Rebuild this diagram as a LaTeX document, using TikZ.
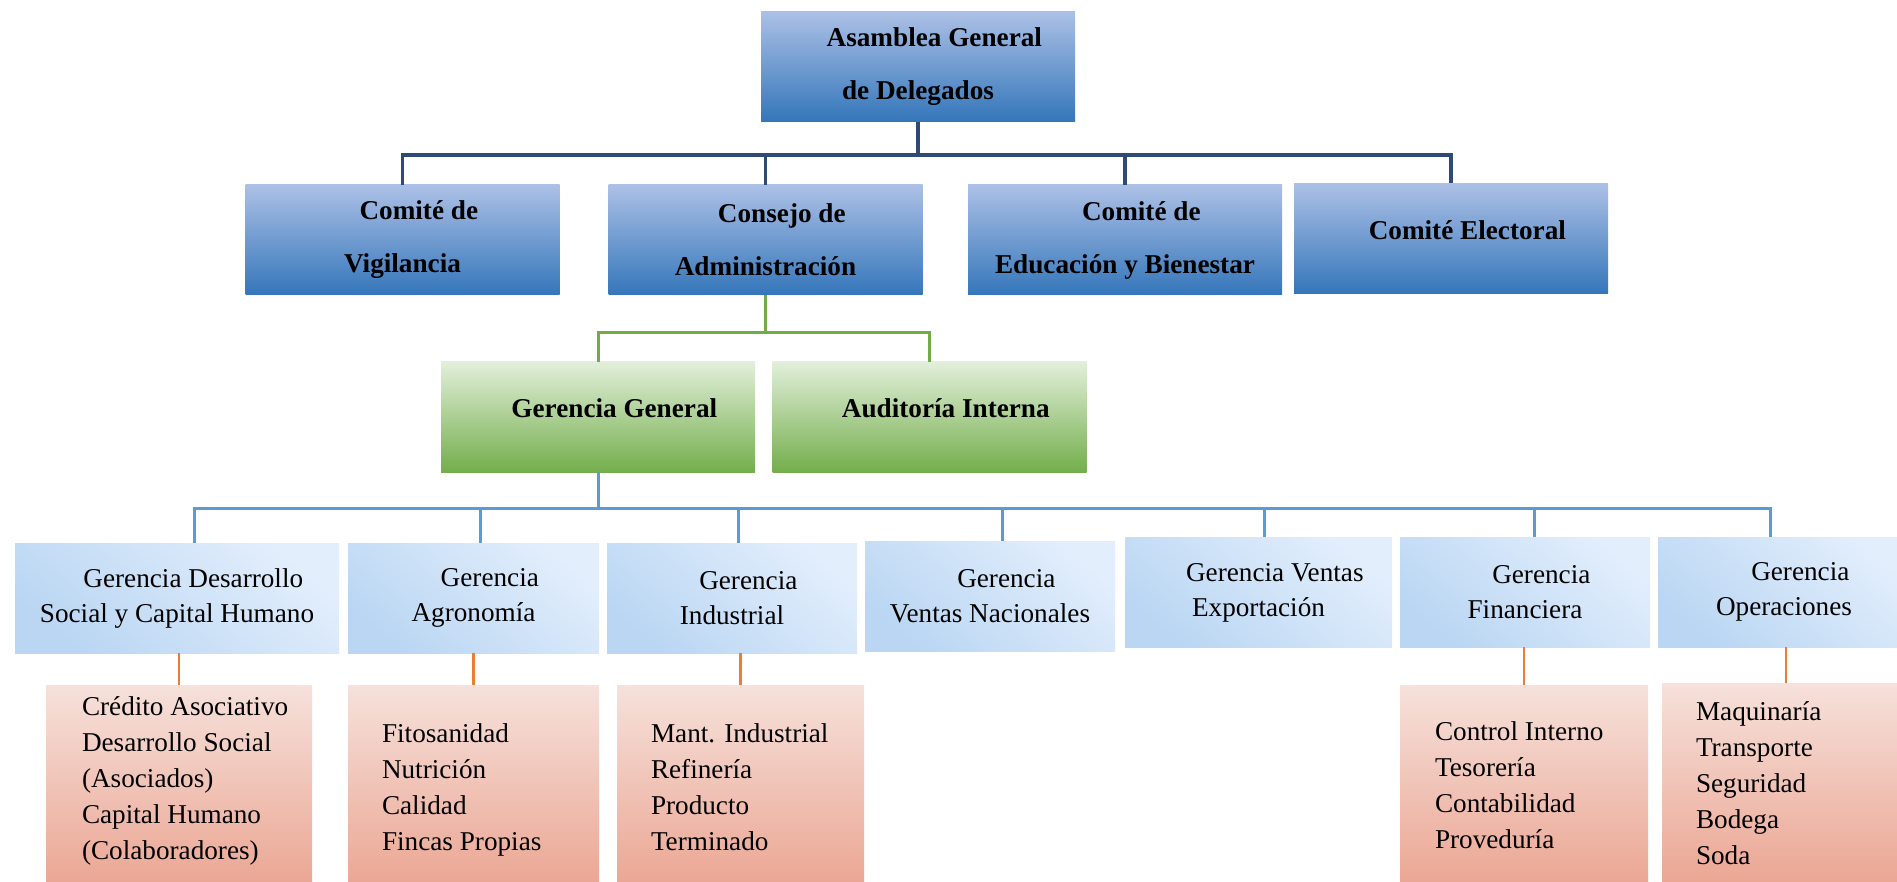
\documentclass[tikz,border=0pt]{standalone}
\usepackage{fontspec}
\setmainfont{Liberation Serif}
\definecolor{azulclaro}{RGB}{172,192,230}
\definecolor{azul}{RGB}{52,118,186}
\definecolor{marino}{RGB}{47,74,120}
\definecolor{verdeclaro}{RGB}{226,239,218}
\definecolor{verde}{RGB}{116,174,76}
\definecolor{lineaverde}{RGB}{112,173,71}
\definecolor{celeste}{RGB}{226,238,252}
\definecolor{celesteosc}{RGB}{186,214,243}
\definecolor{lineaazul}{RGB}{91,155,213}
\definecolor{salmonclaro}{RGB}{246,225,219}
\definecolor{salmon}{RGB}{234,160,140}
\definecolor{naranja}{RGB}{237,125,49}
\tikzstyle{organo}=[inner sep=0pt,minimum width=157pt,minimum height=55pt,top color=azulclaro,bottom color=azul,align=center,font=\fontsize{13.6}{26.5}\selectfont\bfseries]
\tikzstyle{direccion}=[organo,top color=verdeclaro,bottom color=verde]
\tikzstyle{unalinea}=[text depth=8.5pt]
\tikzstyle{gerencia}=[inner sep=0pt,minimum height=55pt,top color=celeste,bottom color=celesteosc,shading angle=-40,align=center,font=\fontsize{13.6}{17.5}\selectfont]
\tikzstyle{area}=[inner sep=0pt,minimum height=110pt,top color=salmonclaro,bottom color=salmon,anchor=north]
\tikzstyle{lista}=[inner sep=0pt,anchor=north west,align=left,font=\fontsize{13.6}{18}\selectfont]
\tikzstyle{enlace}=[draw=marino,line width=1.7pt]
\tikzstyle{enlaceverde}=[draw=lineaverde,line width=1.5pt]
\tikzstyle{enlaceazul}=[draw=lineaazul,line width=1.5pt]
\tikzstyle{enlacenaranja}=[draw=naranja,line width=1.3pt]
\begin{document}
\begin{tikzpicture}[x=0.5pt,y=-0.5pt]
  \useasboundingbox (0,0) rectangle (1897,882);
  \clip (0,0) rectangle (1897,882);
  \node[organo] (asamblea) at (918,66.5) {\hspace*{1.2em}Asamblea General\\de Delegados};
  \node[organo] (vigilancia) at (402.5,240) {\hspace*{1.2em}Comité de\\Vigilancia};
  \node[organo] (consejo) at (765.5,240) {\hspace*{1.2em}Consejo de\\Administración};
  \node[organo] (educacion) at (1125,240) {\hspace*{1.2em}Comité de\\Educación y Bienestar};
  \node[organo,unalinea] (electoral) at (1451,238.5) {\hspace*{1.2em}Comité Electoral};
  \node[direccion,unalinea] (general) at (598,417) {\hspace*{1.2em}Gerencia General};
  \node[direccion,unalinea] (auditoria) at (929.5,417) {\hspace*{1.2em}Auditoría Interna};
  \node[gerencia,minimum width=162pt] (desarrollo) at (177,598) {\hspace*{1.2em}Gerencia Desarrollo\\Social y Capital Humano};
  \node[gerencia,minimum width=125.5pt] (agronomia) at (473.5,598) {\hspace*{1.2em}Gerencia\\Agronomía};
  \node[gerencia,minimum width=125pt] (industrial) at (732,598) {\hspace*{1.2em}Gerencia\\Industrial};
  \node[gerencia,minimum width=125pt] (nacionales) at (990,596.5) {\hspace*{1.2em}Gerencia\\Ventas Nacionales};
  \node[gerencia,minimum width=133.5pt] (exportacion) at (1258.5,592.5) {\hspace*{1.2em}Gerencia Ventas\\Exportación};
  \node[gerencia,minimum width=125pt] (financiera) at (1525,592) {\hspace*{1.2em}Gerencia\\Financiera};
  \node[gerencia,minimum width=126pt] (operaciones) at (1784,592) {\hspace*{1.2em}Gerencia\\Operaciones};
  \node[area,minimum width=133pt] (social) at (179,685) {};
  \node[area,minimum width=125.5pt] (agro) at (473.5,685) {};
  \node[area,minimum width=123.5pt] (planta) at (740.5,685) {};
  \node[area,minimum width=124pt] (finanzas) at (1524,685) {};
  \node[area,minimum width=124pt] (operativa) at (1786,683) {};
  \node[lista] (sociallista) at ([shift={(36,11)}]social.north west) {Crédito Asociativo\\Desarrollo Social\\(Asociados)\\Capital Humano\\(Colaboradores)};
  \node[lista] (agrolista) at ([shift={(34,38)}]agro.north west) {Fitosanidad\\Nutrición\\Calidad\\Fincas Propias};
  \node[lista] (plantalista) at ([shift={(34,38)}]planta.north west) {Mant. Industrial\\Refinería\\Producto\\Terminado};
  \node[lista] (finanzaslista) at ([shift={(35,36)}]finanzas.north west) {Control Interno\\Tesorería\\Contabilidad\\Proveduría};
  \node[lista] (operativalista) at ([shift={(34,18)}]operativa.north west) {Maquinaría\\Transporte\\Seguridad\\Bodega\\Soda};
  \draw[enlace] (asamblea.south) -- ++(0,33) -| (vigilancia.north);
  \draw[enlace] (asamblea.south) -- ++(0,33) -| (consejo.north);
  \draw[enlace] (asamblea.south) -- ++(0,33) -| (educacion.north);
  \draw[enlace] (asamblea.south) -- ++(0,33) -| (electoral.north);
  \draw[enlaceverde] (consejo.south) -- ++(0,37) -| (general.north);
  \draw[enlaceverde] (consejo.south) -- ++(0,37) -| (auditoria.north);
  \draw[enlaceazul] (general.south) -- ++(0,36) -| ([xshift=8.5pt]desarrollo.north);
  \draw[enlaceazul] (general.south) -- ++(0,36) -| ([xshift=3.5pt]agronomia.north);
  \draw[enlaceazul] (general.south) -- ++(0,36) -| ([xshift=3pt]industrial.north);
  \draw[enlaceazul] (general.south) -- ++(0,36) -| ([xshift=6pt]nacionales.north);
  \draw[enlaceazul] (general.south) -- ++(0,36) -| ([xshift=3pt]exportacion.north);
  \draw[enlaceazul] (general.south) -- ++(0,36) -| ([xshift=4.5pt]financiera.north);
  \draw[enlaceazul] (general.south) -- ++(0,36) -| ([xshift=-7pt]operaciones.north);
  \draw[enlacenaranja] (social.north |- desarrollo.south) -- (social.north);
  \draw[enlacenaranja] (agro.north |- agronomia.south) -- (agro.north);
  \draw[enlacenaranja] (planta.north |- industrial.south) -- (planta.north);
  \draw[enlacenaranja] (finanzas.north |- financiera.south) -- (finanzas.north);
  \draw[enlacenaranja] (operativa.north |- operaciones.south) -- (operativa.north);
\end{tikzpicture}
\end{document}
